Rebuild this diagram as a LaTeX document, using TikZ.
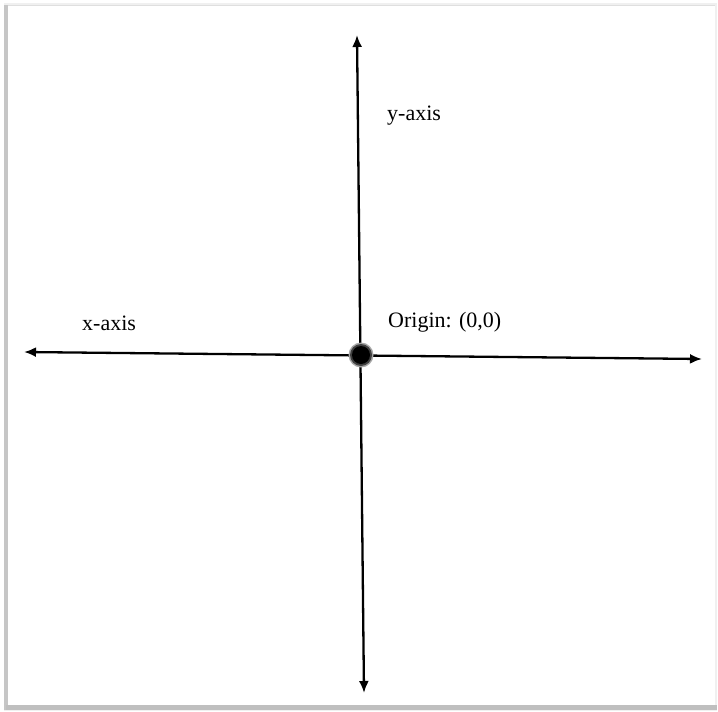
\documentclass[tikz,border=0pt]{standalone}
\usepackage{fontspec}
\setmainfont{Liberation Serif}
\usetikzlibrary{arrows.meta}
\begin{document}
\begin{tikzpicture}[x=1pt,y=-1pt,
  axis/.style={line width=2.3pt,{Latex[length=12pt,width=10pt]}-{Latex[length=12pt,width=10pt]}},
  lbl/.style={anchor=west,inner sep=0pt,font=\fontsize{22}{26}\selectfont}]
\useasboundingbox (0,0) rectangle (718,712);
% frame with shadow
\fill[white] (0,0) rectangle (718,712);
\fill[gray!12] (4,3) rectangle (717,711);
\fill[gray!45] (4,5) rectangle (8,710);
\fill[gray!50] (6,705) rectangle (717,710);
\fill[white] (8,5) rectangle (715,705);
\draw[gray!25,line width=0.6pt] (8,5) -- (715,5);
% axes
\coordinate (L) at (24,352);
\coordinate (R) at (702,359);
\coordinate (T) at (357,35);
\coordinate (B) at (364,693);
\draw[axis] (L) -- (R);
\draw[axis] (T) -- (B);
% origin
\node[circle,fill=black!35,minimum size=25pt,inner sep=0pt] (originglow) at (361,355) {};
\node[circle,fill=black!75,minimum size=22pt,inner sep=0pt] (originmid) at (361,355) {};
\node[circle,fill=black,minimum size=18pt,inner sep=0pt] (origin) at (361,355) {};
% labels
\node[lbl] (xlab) at (82,323) {x-axis};
\node[lbl] (ylab) at (387,116) {y-axis};
\node[lbl] (olab) at (388,322) {Origin: (0,0)};
\end{tikzpicture}
\end{document}
